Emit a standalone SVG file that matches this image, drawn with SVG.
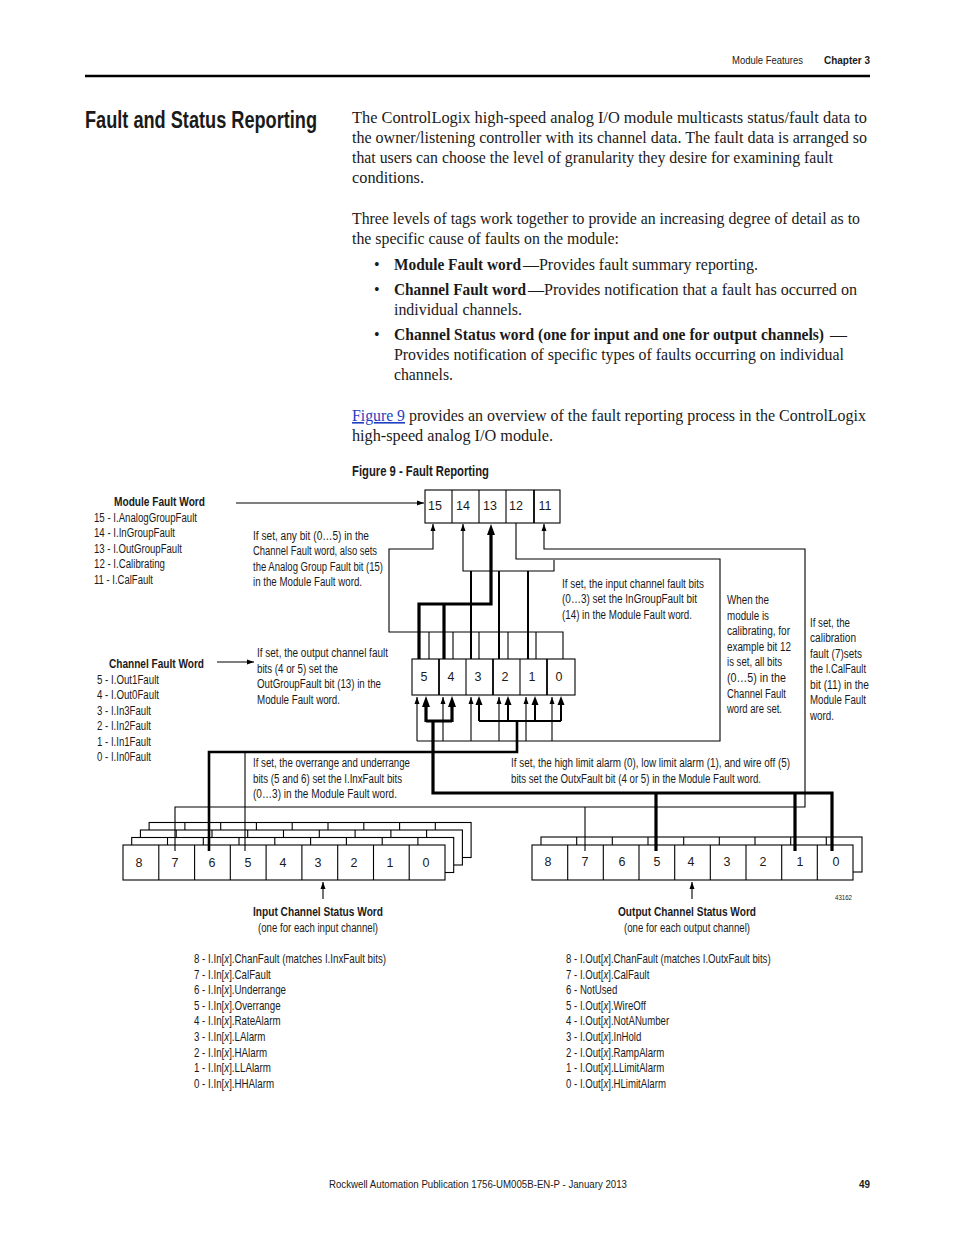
<svg xmlns="http://www.w3.org/2000/svg" width="954" height="1235" viewBox="0 0 954 1235">
<style>
.t{font-family:"Liberation Sans Narrow","Liberation Sans",Arial,sans-serif;font-size:12.5px;fill:#1a1a1a}
.lg{font-family:"Liberation Sans",Arial,sans-serif;font-size:12.5px;fill:#1a1a1a}
.b{font-weight:bold}
.s{font-family:"Liberation Serif","Times New Roman",serif;font-size:16px;fill:#1a1a1a}
.h{font-family:"Liberation Sans Narrow","Liberation Sans",Arial,sans-serif;font-size:11px;fill:#1a1a1a}
.ttl{font-family:"Liberation Sans Narrow","Liberation Sans",Arial,sans-serif;font-size:24px;font-weight:bold;fill:#1a1a1a}
.c{text-anchor:middle}
.box{fill:#fff;stroke:#000;stroke-width:1.1}
.dv{stroke:#000;stroke-width:1.1}
.thin{fill:none;stroke:#000;stroke-width:1.1}
.med{fill:none;stroke:#000;stroke-width:2}
.thk{fill:none;stroke:#000;stroke-width:3.2}
.i{font-style:italic}
.lnk{fill:#1f3fbf;text-decoration:underline}
</style>
<defs>
<marker id="aThin" markerUnits="userSpaceOnUse" markerWidth="7" markerHeight="5" refX="7" refY="2.5" orient="auto" overflow="visible"><path d="M0,0 L7,2.5 L0,5 z" fill="#000"/></marker>
<marker id="aMed" markerUnits="userSpaceOnUse" markerWidth="9" markerHeight="7" refX="5" refY="3.5" orient="auto" overflow="visible"><path d="M0,0 L9,3.5 L0,7 z" fill="#000"/></marker>
<marker id="aThk" markerUnits="userSpaceOnUse" markerWidth="11" markerHeight="8" refX="5" refY="4" orient="auto" overflow="visible"><path d="M0,0 L11,4 L0,8 z" fill="#000"/></marker>
</defs>
<rect width="954" height="1235" fill="#fff"/>

<g id="page-header">
<text class="h" x="732" y="64" textLength="71" lengthAdjust="spacingAndGlyphs">Module Features</text>
<text class="h b" x="824" y="64" textLength="46" lengthAdjust="spacingAndGlyphs">Chapter 3</text>
<line x1="85" y1="76" x2="870" y2="76" stroke="#000" stroke-width="2.5"/>
<text class="ttl" x="85" y="128" textLength="232" lengthAdjust="spacingAndGlyphs">Fault and Status Reporting</text>
</g>

<g id="body-text">
<text class="s" x="352" y="123" textLength="515" lengthAdjust="spacingAndGlyphs">The ControlLogix high-speed analog I/O module multicasts status/fault data to</text>
<text class="s" x="352" y="143" textLength="515" lengthAdjust="spacingAndGlyphs">the owner/listening controller with its channel data. The fault data is arranged so</text>
<text class="s" x="352" y="163" textLength="481" lengthAdjust="spacingAndGlyphs">that users can choose the level of granularity they desire for examining fault</text>
<text class="s" x="352" y="183" textLength="72" lengthAdjust="spacingAndGlyphs">conditions.</text>
<text class="s" x="352" y="224" textLength="508" lengthAdjust="spacingAndGlyphs">Three levels of tags work together to provide an increasing degree of detail as to</text>
<text class="s" x="352" y="244" textLength="267" lengthAdjust="spacingAndGlyphs">the specific cause of faults on the module:</text>
<text class="s" x="374" y="270">•</text>
<text class="s b" x="394" y="270" textLength="127" lengthAdjust="spacingAndGlyphs">Module Fault word</text>
<text class="s" x="523" y="270" textLength="235" lengthAdjust="spacingAndGlyphs">—Provides fault summary reporting.</text>
<text class="s" x="374" y="295">•</text>
<text class="s b" x="394" y="295" textLength="132" lengthAdjust="spacingAndGlyphs">Channel Fault word</text>
<text class="s" x="528" y="295" textLength="329" lengthAdjust="spacingAndGlyphs">—Provides notification that a fault has occurred on</text>
<text class="s" x="394" y="315" textLength="128" lengthAdjust="spacingAndGlyphs">individual channels.</text>
<text class="s" x="374" y="340">•</text>
<text class="s b" x="394" y="340" textLength="430" lengthAdjust="spacingAndGlyphs">Channel Status word (one for input and one for output channels)</text>
<text class="s" x="830" y="340" textLength="17" lengthAdjust="spacingAndGlyphs">—</text>
<text class="s" x="394" y="360" textLength="450" lengthAdjust="spacingAndGlyphs">Provides notification of specific types of faults occurring on individual</text>
<text class="s" x="394" y="380" textLength="59" lengthAdjust="spacingAndGlyphs">channels.</text>
<text class="s lnk" x="352" y="421" textLength="53" lengthAdjust="spacingAndGlyphs">Figure 9</text>
<text class="s" x="409" y="421" textLength="457" lengthAdjust="spacingAndGlyphs">provides an overview of the fault reporting process in the ControlLogix</text>
<text class="s" x="352" y="441" textLength="201" lengthAdjust="spacingAndGlyphs">high-speed analog I/O module.</text>
<text class="t b" x="352" y="476" style="font-size:14px" textLength="137" lengthAdjust="spacingAndGlyphs">Figure 9 - Fault Reporting</text>
</g>

<g id="module-fault-legend">
<text class="t b" x="114" y="506" textLength="91" lengthAdjust="spacingAndGlyphs">Module Fault Word</text>
<text class="t" x="94" y="522" textLength="103" lengthAdjust="spacingAndGlyphs">15 - I.AnalogGroupFault</text>
<text class="t" x="94" y="537" textLength="81" lengthAdjust="spacingAndGlyphs">14 - I.InGroupFault</text>
<text class="t" x="94" y="553" textLength="88" lengthAdjust="spacingAndGlyphs">13 - I.OutGroupFault</text>
<text class="t" x="94" y="568" textLength="71" lengthAdjust="spacingAndGlyphs">12 - I.Calibrating</text>
<text class="t" x="94" y="584" textLength="59" lengthAdjust="spacingAndGlyphs">11 - I.CalFault</text>
</g>

<g id="channel-fault-legend">
<text class="t b" x="109" y="668" textLength="95" lengthAdjust="spacingAndGlyphs">Channel Fault Word</text>
<text class="t" x="97" y="684" textLength="62" lengthAdjust="spacingAndGlyphs">5 - I.Out1Fault</text>
<text class="t" x="97" y="699" textLength="62" lengthAdjust="spacingAndGlyphs">4 - I.Out0Fault</text>
<text class="t" x="97" y="715" textLength="54" lengthAdjust="spacingAndGlyphs">3 - I.In3Fault</text>
<text class="t" x="97" y="730" textLength="54" lengthAdjust="spacingAndGlyphs">2 - I.In2Fault</text>
<text class="t" x="97" y="746" textLength="54" lengthAdjust="spacingAndGlyphs">1 - I.In1Fault</text>
<text class="t" x="97" y="761" textLength="54" lengthAdjust="spacingAndGlyphs">0 - I.In0Fault</text>
</g>

<g id="module-fault-word">
<rect class="box" x="425" y="490" width="135" height="33"/>
<line class="dv" x1="452" y1="490" x2="452" y2="523"/>
<line class="dv" x1="479" y1="490" x2="479" y2="523"/>
<line class="dv" x1="506" y1="490" x2="506" y2="523"/>
<line class="dv" x1="534" y1="490" x2="534" y2="523" style="stroke-width:1.8"/>
<text class="t c" x="435" y="510">15</text>
<text class="t c" x="463" y="510">14</text>
<text class="t c" x="490" y="510">13</text>
<text class="t c" x="516" y="510">12</text>
<text class="t c" x="545" y="510">11</text>
</g>

<g id="channel-fault-word">
<rect class="box" x="412" y="659" width="163" height="36"/>
<line class="dv" x1="439" y1="659" x2="439" y2="695" style="stroke-width:1.8"/>
<line class="dv" x1="466" y1="659" x2="466" y2="695"/>
<line class="dv" x1="493" y1="659" x2="493" y2="695" style="stroke-width:1.8"/>
<line class="dv" x1="520" y1="659" x2="520" y2="695"/>
<line class="dv" x1="547" y1="659" x2="547" y2="695" style="stroke-width:1.8"/>
<text class="t c" x="424" y="681">5</text>
<text class="t c" x="451" y="681">4</text>
<text class="t c" x="478" y="681">3</text>
<text class="t c" x="505" y="681">2</text>
<text class="t c" x="532" y="681">1</text>
<text class="t c" x="559" y="681">0</text>
</g>

<g id="note-analog-group">
<text class="t" x="253" y="540" textLength="116" lengthAdjust="spacingAndGlyphs">If set, any bit (0…5) in the</text>
<text class="t" x="253" y="555" textLength="124" lengthAdjust="spacingAndGlyphs">Channel Fault word, also sets</text>
<text class="t" x="253" y="571" textLength="130" lengthAdjust="spacingAndGlyphs">the Analog Group Fault bit (15)</text>
<text class="t" x="253" y="586" textLength="109" lengthAdjust="spacingAndGlyphs">in the Module Fault word.</text>
</g>
<g id="note-out-group">
<text class="t" x="257" y="657" textLength="131" lengthAdjust="spacingAndGlyphs">If set, the output channel fault</text>
<text class="t" x="257" y="673" textLength="81" lengthAdjust="spacingAndGlyphs">bits (4 or 5) set the</text>
<text class="t" x="257" y="688" textLength="124" lengthAdjust="spacingAndGlyphs">OutGroupFault bit (13) in the</text>
<text class="t" x="257" y="704" textLength="83" lengthAdjust="spacingAndGlyphs">Module Fault word.</text>
</g>
<g id="note-in-group">
<text class="t" x="562" y="588" textLength="142" lengthAdjust="spacingAndGlyphs">If set, the input channel fault bits</text>
<text class="t" x="562" y="603" textLength="135" lengthAdjust="spacingAndGlyphs">(0…3) set the InGroupFault bit</text>
<text class="t" x="562" y="619" textLength="130" lengthAdjust="spacingAndGlyphs">(14) in the Module Fault word.</text>
</g>
<g id="note-calibrating">
<text class="t" x="727" y="604" textLength="42" lengthAdjust="spacingAndGlyphs">When the</text>
<text class="t" x="727" y="620" textLength="42" lengthAdjust="spacingAndGlyphs">module is</text>
<text class="t" x="727" y="635" textLength="63" lengthAdjust="spacingAndGlyphs">calibrating, for</text>
<text class="t" x="727" y="651" textLength="64" lengthAdjust="spacingAndGlyphs">example bit 12</text>
<text class="t" x="727" y="666" textLength="55" lengthAdjust="spacingAndGlyphs">is set, all bits</text>
<text class="t" x="727" y="682" textLength="59" lengthAdjust="spacingAndGlyphs">(0…5) in the</text>
<text class="t" x="727" y="698" textLength="59" lengthAdjust="spacingAndGlyphs">Channel Fault</text>
<text class="t" x="727" y="713" textLength="55" lengthAdjust="spacingAndGlyphs">word are set.</text>
</g>
<g id="note-calfault">
<text class="t" x="810" y="627" textLength="40" lengthAdjust="spacingAndGlyphs">If set, the</text>
<text class="t" x="810" y="642" textLength="46" lengthAdjust="spacingAndGlyphs">calibration</text>
<text class="t" x="810" y="658" textLength="52" lengthAdjust="spacingAndGlyphs">fault (7)sets</text>
<text class="t" x="810" y="673" textLength="56" lengthAdjust="spacingAndGlyphs">the I.CalFault</text>
<text class="t" x="810" y="689" textLength="59" lengthAdjust="spacingAndGlyphs">bit (11) in the</text>
<text class="t" x="810" y="704" textLength="56" lengthAdjust="spacingAndGlyphs">Module Fault</text>
<text class="t" x="810" y="720" textLength="24" lengthAdjust="spacingAndGlyphs">word.</text>
</g>
<g id="note-inxfault">
<text class="t" x="253" y="767" textLength="157" lengthAdjust="spacingAndGlyphs">If set, the overrange and underrange</text>
<text class="t" x="253" y="783" textLength="149" lengthAdjust="spacingAndGlyphs">bits (5 and 6) set the I.InxFault bits</text>
<text class="t" x="253" y="798" textLength="144" lengthAdjust="spacingAndGlyphs">(0…3) in the Module Fault word.</text>
</g>
<g id="note-outxfault">
<text class="t" x="511" y="767" textLength="279" lengthAdjust="spacingAndGlyphs">If set, the high limit alarm (0), low limit alarm (1), and wire off (5)</text>
<text class="t" x="511" y="783" textLength="250" lengthAdjust="spacingAndGlyphs">bits set the OutxFault bit (4 or 5) in the Module Fault word.</text>
</g>

<g id="input-channel-status-word">
<rect class="box" x="149.1" y="822.5" width="322" height="35"/>
<path class="dv" d="M184.9,822.5v35M220.7,822.5v35M256.4,822.5v35M292.2,822.5v35M328,822.5v35M363.8,822.5v35M399.6,822.5v35M435.3,822.5v35"/>
<rect class="box" x="140.4" y="830" width="322" height="35"/>
<path class="dv" d="M176.2,830v35M212,830v35M247.7,830v35M283.5,830v35M319.3,830v35M355.1,830v35M390.9,830v35M426.6,830v35"/>
<rect class="box" x="131.7" y="837.5" width="322" height="35"/>
<path class="dv" d="M167.5,837.5v35M203.3,837.5v35M239,837.5v35M274.8,837.5v35M310.6,837.5v35M346.4,837.5v35M382.2,837.5v35M417.9,837.5v35"/>
<rect class="box" x="123" y="845" width="322" height="35"/>
<path class="dv" d="M158.8,845v35M194.6,845v35M230.3,845v35M266.1,845v35M301.9,845v35M337.7,845v35M373.5,845v35M409.2,845v35"/>
<text class="t c" x="139" y="867">8</text>
<text class="t c" x="175" y="867">7</text>
<text class="t c" x="212" y="867">6</text>
<text class="t c" x="248" y="867">5</text>
<text class="t c" x="283" y="867">4</text>
<text class="t c" x="318" y="867">3</text>
<text class="t c" x="354" y="867">2</text>
<text class="t c" x="390" y="867">1</text>
<text class="t c" x="426" y="867">0</text>
<text class="t b" x="253" y="916" textLength="130" lengthAdjust="spacingAndGlyphs">Input Channel Status Word</text>
<text class="t" x="258" y="932" textLength="120" lengthAdjust="spacingAndGlyphs">(one for each input channel)</text>
</g>

<g id="output-channel-status-word">
<rect class="box" x="541" y="837" width="321" height="35"/>
<path class="dv" d="M576.7,837v35M612.3,837v35M648,837v35M683.7,837v35M719.3,837v35M755,837v35M790.7,837v35M826.3,837v35"/>
<rect class="box" x="532" y="845" width="321" height="35"/>
<path class="dv" d="M567.7,845v35M603.3,845v35M639,845v35M674.7,845v35M710.3,845v35M746,845v35M781.7,845v35M817.3,845v35"/>
<text class="t c" x="548" y="866">8</text>
<text class="t c" x="585" y="866">7</text>
<text class="t c" x="622" y="866">6</text>
<text class="t c" x="657" y="866">5</text>
<text class="t c" x="691" y="866">4</text>
<text class="t c" x="727" y="866">3</text>
<text class="t c" x="763" y="866">2</text>
<text class="t c" x="800" y="866">1</text>
<text class="t c" x="836" y="866">0</text>
<text class="t b" x="618" y="916" textLength="138" lengthAdjust="spacingAndGlyphs">Output Channel Status Word</text>
<text class="t" x="624" y="932" textLength="126" lengthAdjust="spacingAndGlyphs">(one for each output channel)</text>
<text class="t" x="835" y="900" style="font-size:8px" textLength="17" lengthAdjust="spacingAndGlyphs">43162</text>
</g>

<g id="input-status-legend" transform="translate(194,0) scale(0.78,1)">
<text class="lg" x="0" y="963">8 - I.In[<tspan class="i">x</tspan>].ChanFault (matches I.InxFault bits)</text>
<text class="lg" x="0" y="979">7 - I.In[<tspan class="i">x</tspan>].CalFault</text>
<text class="lg" x="0" y="994">6 - I.In[<tspan class="i">x</tspan>].Underrange</text>
<text class="lg" x="0" y="1010">5 - I.In[<tspan class="i">x</tspan>].Overrange</text>
<text class="lg" x="0" y="1025">4 - I.In[<tspan class="i">x</tspan>].RateAlarm</text>
<text class="lg" x="0" y="1041">3 - I.In[<tspan class="i">x</tspan>].LAlarm</text>
<text class="lg" x="0" y="1057">2 - I.In[<tspan class="i">x</tspan>].HAlarm</text>
<text class="lg" x="0" y="1072">1 - I.In[<tspan class="i">x</tspan>].LLAlarm</text>
<text class="lg" x="0" y="1088">0 - I.In[<tspan class="i">x</tspan>].HHAlarm</text>
</g>
<g id="output-status-legend" transform="translate(566,0) scale(0.77,1)">
<text class="lg" x="0" y="963">8 - I.Out[<tspan class="i">x</tspan>].ChanFault (matches I.OutxFault bits)</text>
<text class="lg" x="0" y="979">7 - I.Out[<tspan class="i">x</tspan>].CalFault</text>
<text class="lg" x="0" y="994">6 - NotUsed</text>
<text class="lg" x="0" y="1010">5 - I.Out[<tspan class="i">x</tspan>].WireOff</text>
<text class="lg" x="0" y="1025">4 - I.Out[<tspan class="i">x</tspan>].NotANumber</text>
<text class="lg" x="0" y="1041">3 - I.Out[<tspan class="i">x</tspan>].InHold</text>
<text class="lg" x="0" y="1057">2 - I.Out[<tspan class="i">x</tspan>].RampAlarm</text>
<text class="lg" x="0" y="1072">1 - I.Out[<tspan class="i">x</tspan>].LLimitAlarm</text>
<text class="lg" x="0" y="1088">0 - I.Out[<tspan class="i">x</tspan>].HLimitAlarm</text>
</g>

<g id="connectors">
<path class="thin" d="M236,503 H424" marker-end="url(#aThin)"/>
<path class="thin" d="M217,662 H254" marker-end="url(#aThin)"/>
<path class="thin" d="M563,659 V632 H389 V549 H433 V524" marker-end="url(#aThin)"/>
<path class="thin" d="M429,632V659M453,632V659M479,632V659M508,632V659M536,632V659"/>
<path class="thin" d="M554,560 V571 H463 V524" marker-end="url(#aThin)"/>
<path class="med" d="M471,571V659M499,571V659M528,571V659"/>
<path class="thk" d="M419,659 V604 H491 V530" marker-end="url(#aThk)"/>
<path class="thk" d="M444,604V659"/>
<path class="thin" d="M516,523 V559 H720 V741 H417"/>
<path class="thin" d="M417,741V697" marker-end="url(#aThin)"/>
<path class="thin" d="M443,741V697" marker-end="url(#aThin)"/>
<path class="thin" d="M471,741V697" marker-end="url(#aThin)"/>
<path class="thin" d="M499,741V697" marker-end="url(#aThin)"/>
<path class="thin" d="M526,741V697" marker-end="url(#aThin)"/>
<path class="thin" d="M552,741V697" marker-end="url(#aThin)"/>
<path class="thin" d="M175,851 V807 H805 V549 H544 V524" marker-end="url(#aThin)"/>
<path class="thin" d="M585,851V807"/>
<path class="thk" d="M426,722 V702" marker-end="url(#aThk)"/>
<path class="thk" d="M452,722 V702" marker-end="url(#aThk)"/>
<path class="thk" d="M426,721 H452 M433,721 V793 H832 V851 M656,793 V851 M795,793 V851"/>
<path class="med" d="M479,721 V700" marker-end="url(#aMed)"/>
<path class="med" d="M508,721 V700" marker-end="url(#aMed)"/>
<path class="med" d="M535,721 V700" marker-end="url(#aMed)"/>
<path class="med" d="M561,721 V700" marker-end="url(#aMed)"/>
<path class="med" d="M479,721 H561"/>
<path class="med" d="M517,721 V752 H209 V851" style="stroke-width:2.6"/>
<path class="thin" d="M245,752 V851"/>
<path class="thin" d="M323,899 V882" marker-end="url(#aThin)"/>
<path class="thin" d="M692,899 V882" marker-end="url(#aThin)"/>
</g>

<g id="page-footer">
<text class="h" x="329" y="1188" textLength="298" lengthAdjust="spacingAndGlyphs">Rockwell Automation Publication 1756-UM005B-EN-P - January 2013</text>
<text class="h b" x="859" y="1188" textLength="11" lengthAdjust="spacingAndGlyphs">49</text>
</g>
</svg>
